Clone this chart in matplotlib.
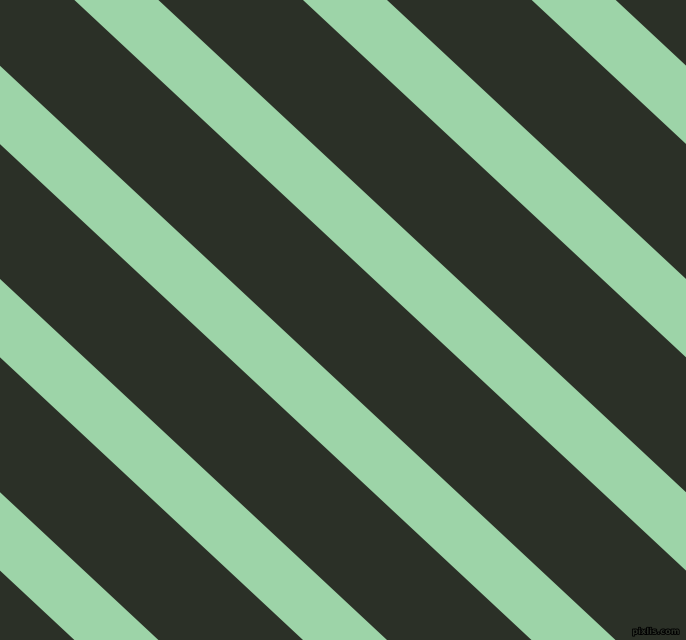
import matplotlib.pyplot as plt
from matplotlib.patches import Polygon
import matplotlib.patheffects as pe

# stripe pattern (pixels)
width_px = 686
height_px = 640
stripe_starts = [-611.6, -383.0, -154.5, 74.4, 303.0, 531.7]   # x where each light stripe meets the top edge
stripe_width = 84.0                                             # horizontal width of a light stripe
stripe_drift = 686.0                                            # x shift of a stripe from top to bottom

bg_color = "#2b3027"
stripe_color = "#9dd4a8"

fig = plt.figure(figsize=(width_px / 100, height_px / 100), dpi=100)
ax = fig.add_axes([0, 0, 1, 1])
ax.set_xlim(0, width_px)
ax.set_ylim(height_px, 0)
ax.set_facecolor(bg_color)
ax.axis("off")
fig.patch.set_facecolor(bg_color)

for x0 in stripe_starts:
    pts = [(x0, 0), (x0 + stripe_width, 0),
           (x0 + stripe_width + stripe_drift, height_px), (x0 + stripe_drift, height_px)]
    ax.add_patch(Polygon(pts, closed=True, facecolor=stripe_color, edgecolor="none"))

t = ax.text(680, 636, "pixlis.com", ha="right", va="bottom", fontsize=6,
            color="#2b3027", fontweight="bold")
t.set_path_effects([pe.withStroke(linewidth=1.2, foreground="black")])

fig.savefig("out.png", dpi=100, facecolor=bg_color)
